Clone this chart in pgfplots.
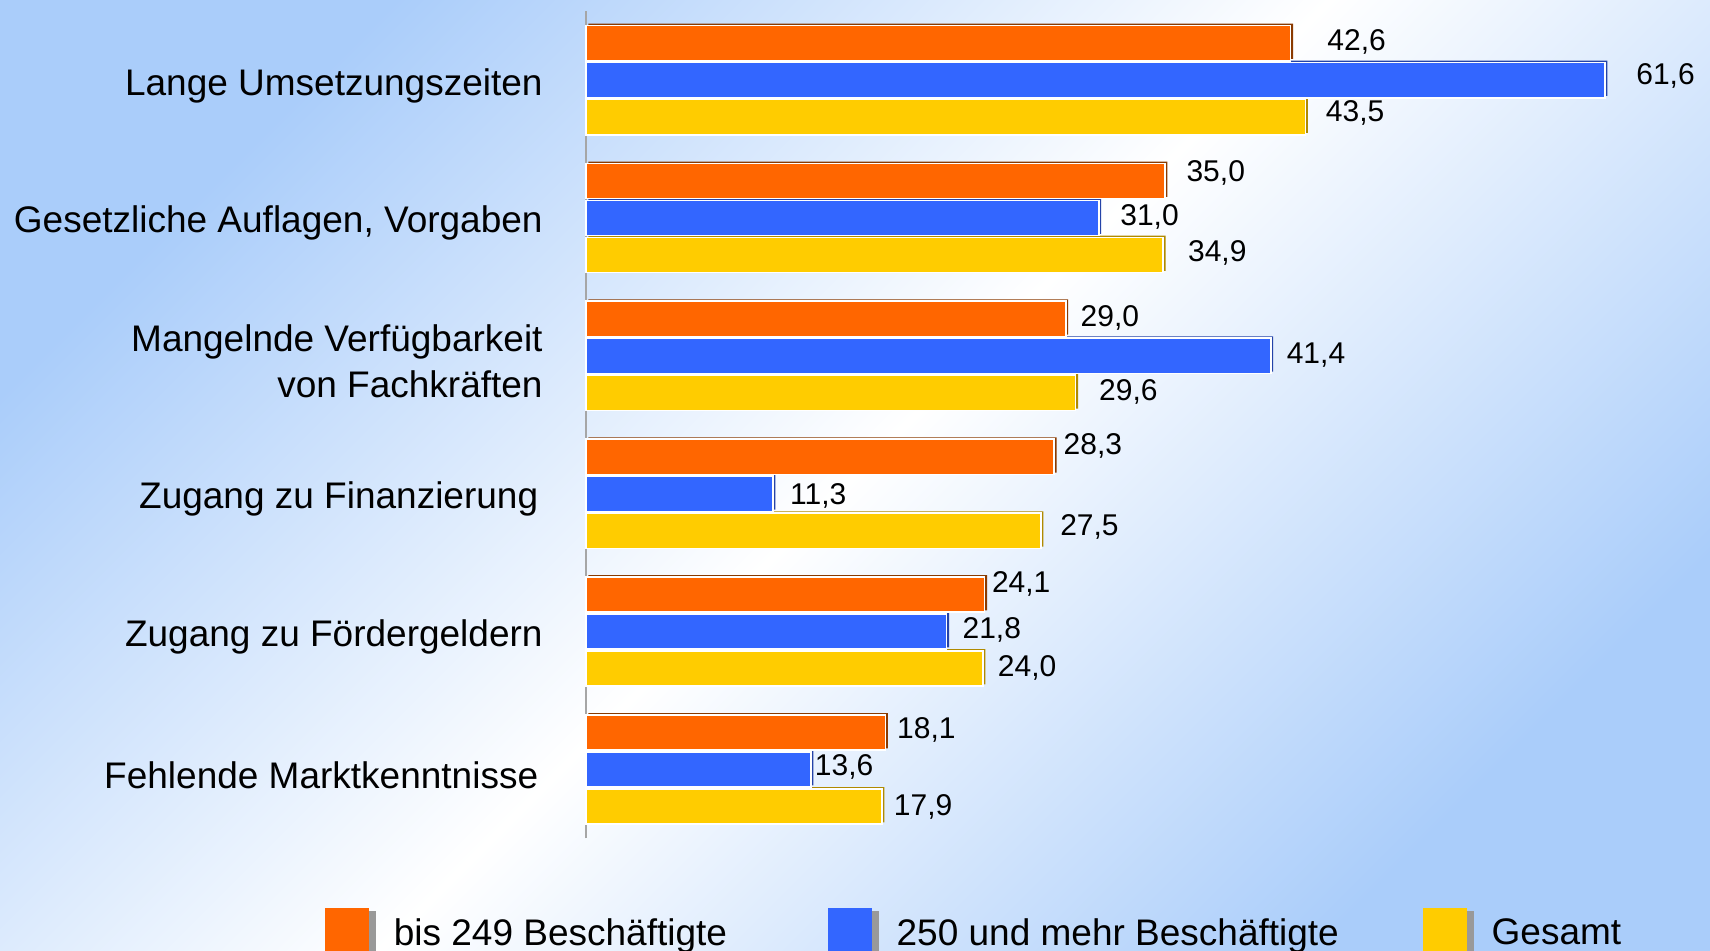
\documentclass[border=0pt]{standalone}
\usepackage{fontspec}
\setmainfont{Liberation Sans}
\usepackage{pgfplots}
\usepackage{pgfplotstable}
\pgfplotsset{compat=1.18}
\definecolor{cOr}{HTML}{FF6600}
\definecolor{cBl}{HTML}{3366FF}
\definecolor{cYe}{HTML}{FFCC00}
\definecolor{sOr}{HTML}{8A3A00}
\definecolor{sBl}{HTML}{2443A8}
\definecolor{sYe}{HTML}{B08A00}
\definecolor{bgb}{RGB}{170,205,250}
\pgfdeclarehorizontalshading{bgshade}{100bp}{color(0bp)=(bgb); color(25bp)=(bgb); color(50bp)=(white); color(75bp)=(bgb); color(100bp)=(bgb)}

\pgfplotstableread{
y x dx dy
5 42.6 18 0.8
4 35.0 10.4 3.8
3 29.0 7.1 0.5
2 28.3 4.4 5.5
1 24.1 3.3 5.5
0 18.1 5.5 1.4
}\tOr
\pgfplotstableread{
y x dx dy
5 61.6 15.3 1.9
4 31.0 10.4 0.5
3 41.4 7.6 0.5
2 11.3 8.2 -1.2
1 21.8 7.6 1.0
0 13.6 1.6 1.4
}\tBl
\pgfplotstableread{
y x dx dy
5 43.5 9.8 1.9
4 34.9 12.0 1.0
3 29.6 11.4 0.5
2 27.5 9.3 1.8
1 24.0 7.1 0.5
0 17.9 5.5 0.0
}\tYe

\pgfplotsset{
  mybar/.style={xbar, bar width=17.6pt, draw=white, line width=0.8pt,
    point meta=x,
    visualization depends on={\thisrow{dx} \as \dx},
    visualization depends on={\thisrow{dy} \as \dy},
    nodes near coords={\pgfmathprintnumber[fixed,fixed zerofill,precision=1,use comma,assume math mode=true]{\pgfplotspointmeta}},
    nodes near coords style={font=\fontsize{15}{18}\selectfont, anchor=west, inner sep=0pt, xshift=\dx pt, yshift=\dy pt, text=black}},
  myshadow/.style={xbar, bar width=17.6pt, draw=none, forget plot, xshift=1.2pt, yshift=0.9pt}
}

\begin{document}
\begin{tikzpicture}
\path[use as bounding box] (0,0) rectangle (855pt,475pt);
\shade[shading=bgshade, shading angle=-45] (0,0) rectangle (855pt,475pt);
\begin{axis}[
  at={(293pt,55.8pt)}, anchor=south west,
  scale only axis, width=537.6pt, height=413.6pt,
  xmin=0, xmax=65, ymin=-0.5, ymax=5.5,
  clip=false,
  axis line style={draw=none},
  xtick=\empty,
  ytick={0,1,2,3,4,5},
  yticklabels={Fehlende Marktkenntnisse\hspace*{2.2pt},
    Zugang zu Fördergeldern,
    Zugang zu Finanzierung\hspace*{2.2pt},
    {Mangelnde Verfügbarkeit\\von Fachkräften},
    {Gesetzliche Auflagen, Vorgaben},
    Lange Umsetzungszeiten},
  major tick length=0pt,
  yticklabel style={font=\fontsize{18.5}{23}\selectfont, align=right, inner sep=0pt, xshift=-21.5pt, yshift=-2.7pt},
  legend columns=3,
  reverse legend,
  legend image code/.code={%
    \fill[#1, draw=none] (0pt,-14.2pt) rectangle (22pt,12.8pt);
    \fill[gray!80] (22.5pt,-14.2pt) rectangle (25pt,10.8pt);},
  legend style={draw=none, fill=none, inner sep=0pt, outer sep=0pt,
    at={(axis description cs:-0.2427,-0.0841)}, anchor=north west,
    font=\fontsize{18.5}{23}\selectfont,
    nodes={inner sep=0pt},
    /tikz/every odd column/.append style={column sep=9pt},
    /tikz/column 2/.style={column sep=50.4pt},
    /tikz/column 4/.style={column sep=42pt}},
]
\addplot[gray!70, line width=1.2pt, no marks, forget plot] coordinates {(0,-0.5) (0,5.5)};
\addplot[myshadow, bar shift=-18.5pt, fill=sYe] table[x=x,y=y] {\tYe};
\addplot[mybar, bar shift=-18.5pt, fill=cYe, every node near coord/.append style={yshift=-18.5pt}] table[x=x,y=y] {\tYe};
\addplot[myshadow, bar shift=0pt, fill=sBl] table[x=x,y=y] {\tBl};
\addplot[mybar, bar shift=0pt, fill=cBl] table[x=x,y=y] {\tBl};
\addplot[myshadow, bar shift=18.5pt, fill=sOr] table[x=x,y=y] {\tOr};
\addplot[mybar, bar shift=18.5pt, fill=cOr, every node near coord/.append style={yshift=18.5pt}] table[x=x,y=y] {\tOr};
\legend{Gesamt, 250 und mehr Beschäftigte, bis 249 Beschäftigte}
\end{axis}
\end{tikzpicture}
\end{document}
